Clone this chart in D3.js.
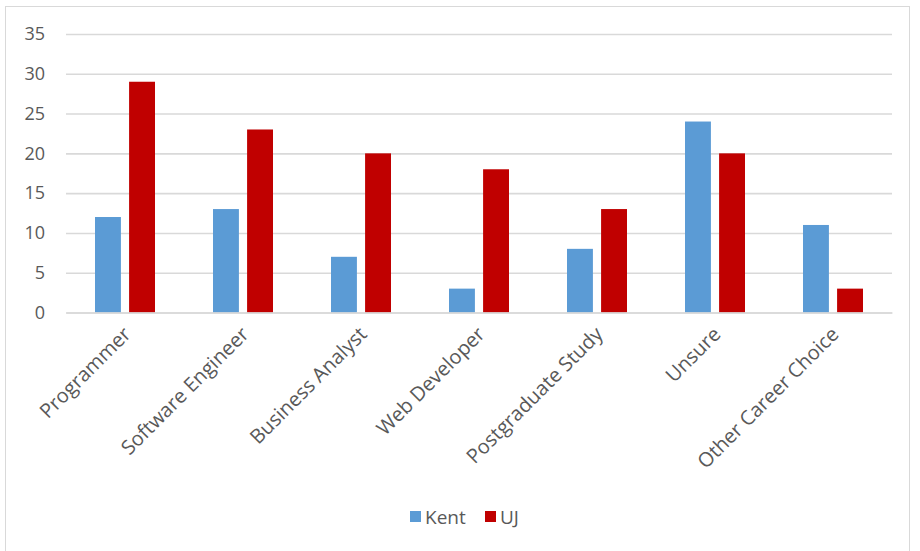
<!DOCTYPE html>
<html>
<head>
<meta charset="utf-8">
<script src="https://cdn.jsdelivr.net/npm/d3@7"></script>
<style>
  html, body { margin: 0; padding: 0; background: #fff; }
  svg { display: block; }
</style>
</head>
<body>
<svg id="chart" width="920" height="551"></svg>
<script>
// Career destinations: counts by institution
const categories = ["Programmer", "Software Engineer", "Business Analyst", "Web Developer",
                    "Postgraduate Study", "Unsure", "Other Career Choice"];
const kentValues = [12, 13, 7, 3, 8, 24, 11];
const ujValues = [29, 23, 20, 18, 13, 20, 3];
const seriesNames = ["Kent", "UJ"];
const yTicks = [0, 5, 10, 15, 20, 25, 30, 35];

const colors = { Kent: "#5b9bd5", UJ: "#c00000" };
const font = "'Open Sans', sans-serif";
const textColor = "#595959";

const svg = d3.select("#chart");
const W = 920, H = 551;
const margin = { left: 66, right: 28, top: 34, bottom: 238 };

// outer frame
svg.append("rect")
  .attr("x", 5.5).attr("y", 6.5)
  .attr("width", 904).attr("height", 560)
  .attr("fill", "#fff").attr("stroke", "#d9d9d9").attr("stroke-width", 1);

const x = d3.scaleBand()
  .domain(categories)
  .range([margin.left, W - margin.right])
  .paddingInner(0).paddingOuter(0);

const y = d3.scaleLinear()
  .domain([0, 35])
  .range([H - margin.bottom - 0.5, margin.top]);

const sub = d3.scaleBand()
  .domain(seriesNames)
  .range([x.bandwidth() / 2 - 30, x.bandwidth() / 2 + 30])
  .paddingInner(0.24);

// gridlines
const yAxis = d3.axisLeft(y).tickValues(yTicks).tickSize(-(W - margin.left - margin.right)).tickPadding(20);
const gy = svg.append("g").attr("transform", `translate(${margin.left},0)`).call(yAxis);
gy.select(".domain").remove();
gy.selectAll(".tick line").attr("stroke", "#d9d9d9").attr("stroke-width", 1.6);
gy.selectAll(".tick text")
  .attr("fill", textColor).attr("font-family", font).attr("font-size", 18)
  .attr("x", -21);

// bars
const rows = categories.map((c, i) => ({ cat: c, Kent: kentValues[i], UJ: ujValues[i] }));
const groups = svg.append("g").selectAll("g").data(rows).join("g")
  .attr("transform", d => `translate(${x(d.cat)},0)`);
groups.selectAll("rect")
  .data(d => seriesNames.map(s => ({ s, v: d[s] })))
  .join("rect")
  .attr("x", d => sub(d.s))
  .attr("width", sub.bandwidth())
  .attr("y", d => y(d.v))
  .attr("height", d => y(0) - y(d.v))
  .attr("fill", d => colors[d.s]);

// category axis
const xAxis = d3.axisBottom(x).tickSize(0).tickPadding(0);
const gx = svg.append("g").attr("transform", `translate(0,${y(0)})`).call(xAxis);
gx.select(".domain").attr("stroke", "#d9d9d9").attr("stroke-width", 1.6);
gx.selectAll(".tick text")
  .attr("fill", textColor).attr("font-family", font).attr("font-size", 20)
  .attr("text-anchor", "end")
  .attr("dy", 0).attr("y", 0)
  .attr("transform", "translate(7,23) rotate(-45)");

// legend
const legend = svg.append("g").attr("transform", "translate(410,511)");
const items = [{ s: "Kent", x: 0 }, { s: "UJ", x: 75 }];
const li = legend.selectAll("g").data(items).join("g").attr("transform", d => `translate(${d.x},0)`);
li.append("rect").attr("width", 11).attr("height", 11).attr("fill", d => colors[d.s]);
li.append("text").attr("x", 15).attr("y", 12.5)
  .attr("fill", textColor).attr("font-family", font).attr("font-size", 19)
  .text(d => d.s);
</script>
</body>
</html>
